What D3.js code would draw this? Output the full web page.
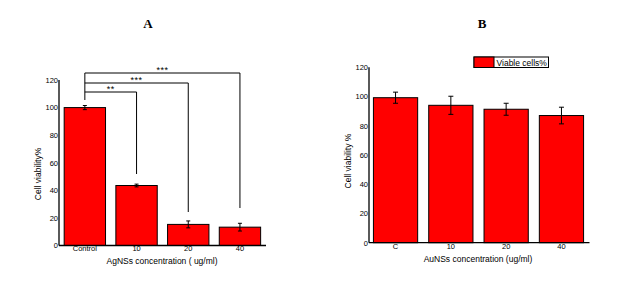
<!DOCTYPE html>
<html>
<head>
<meta charset="utf-8">
<script src="https://cdn.jsdelivr.net/npm/d3@7"></script>
<style>
  html, body { margin: 0; padding: 0; background: #fff; }
  svg { display: block; font-family: "Liberation Sans", Arial, sans-serif; }
  .tick text { font-size: 7.5px; fill: #000; }
</style>
</head>
<body>
<div id="chart"></div>
<script>
// --- panel A: AgNSs ---
var agCats = ["Control", "10", "20", "40"];
var agVals = [100, 43.5, 15.3, 13.3];
var agErr = [1.5, 1, 2.5, 2.8];
// significance brackets: from bar 0 to bar idx, label
var agSig = [
  { to: 1, label: "**", level: 92, drop: 174 },
  { to: 2, label: "***", level: 83, drop: 212 },
  { to: 3, label: "***", level: 73, drop: 208 }
];

// --- panel B: AuNSs ---
var auCats = ["C", "10", "20", "40"];
var auVals = [99.2, 94, 91.3, 87];
var auErr = [3.8, 6.2, 4.1, 5.7];

var yTicks = [0, 20, 40, 60, 80, 100, 120];

(function () {
  "use strict";

  var W = 644, H = 301;
  var svg = d3.select("#chart").append("svg").attr("width", W).attr("height", H);

  // draw one bar panel; returns scales for extra annotations
  function panel(o) {
    var g = svg.append("g");
    var x = d3.scaleBand().domain(o.cats).range([o.x0, o.x1])
      .paddingInner(0.2).paddingOuter(o.outer);
    var y = d3.scaleLinear().domain([0, 120]).range([o.y0, o.y1]);

    // tick labels under bars (bars overlap them slightly like the original)
    g.append("g").attr("transform", "translate(0," + o.y0 + ")")
      .call(d3.axisBottom(x).tickSize(0).tickPadding(o.xPad))
      .call(function (a) { a.select(".domain").remove(); });

    g.selectAll("rect.bar").data(o.vals).enter().append("rect")
      .attr("class", "bar")
      .attr("x", function (d, i) { return x(o.cats[i]); })
      .attr("width", x.bandwidth())
      .attr("y", function (d) { return y(d); })
      .attr("height", function (d) { return o.y0 - y(d); })
      .attr("fill", "#ff0000").attr("stroke", "#000").attr("stroke-width", 1);

    // error bars
    var eb = g.selectAll("g.err").data(o.vals).enter().append("g").attr("class", "err")
      .attr("stroke", "#000").attr("stroke-width", 1);
    eb.append("line")
      .attr("x1", function (d, i) { return x(o.cats[i]) + x.bandwidth() / 2; })
      .attr("x2", function (d, i) { return x(o.cats[i]) + x.bandwidth() / 2; })
      .attr("y1", function (d, i) { return y(d + o.err[i]); })
      .attr("y2", function (d, i) { return y(d - o.err[i]); });
    [1, -1].forEach(function (s) {
      eb.append("line")
        .attr("x1", function (d, i) { return x(o.cats[i]) + x.bandwidth() / 2 - o.cap; })
        .attr("x2", function (d, i) { return x(o.cats[i]) + x.bandwidth() / 2 + o.cap; })
        .attr("y1", function (d, i) { return y(d + s * o.err[i]); })
        .attr("y2", function (d, i) { return y(d + s * o.err[i]); });
    });

    // axes
    g.append("g").attr("transform", "translate(" + o.x0 + ",0)")
      .call(d3.axisLeft(y).tickValues(yTicks).tickSize(0).tickPadding(1))
      .call(function (a) { a.select(".domain").remove(); });
    g.append("line").attr("x1", o.x0).attr("x2", o.x0).attr("y1", o.y0).attr("y2", o.y1)
      .attr("stroke", "#000").attr("stroke-width", 1.3);
    g.append("line").attr("x1", o.x0).attr("x2", o.xEnd).attr("y1", o.y0).attr("y2", o.y0)
      .attr("stroke", "#000").attr("stroke-width", 1.3);

    // titles
    g.append("text").attr("x", o.titleX).attr("y", 28).attr("text-anchor", "middle")
      .attr("font-family", "'Liberation Serif', 'Times New Roman', serif")
      .attr("font-weight", "bold").attr("font-size", 13).text(o.title);
    g.append("text").attr("x", o.xlabX).attr("y", o.xlabY).attr("text-anchor", "middle")
      .attr("font-size", 8.5).text(o.xlab);
    g.append("text").attr("transform", "translate(" + o.ylabX + "," + o.ylabY + ") rotate(-90)")
      .attr("text-anchor", "middle").attr("font-size", 8.5).text(o.ylab);

    return { x: x, y: y, g: g };
  }

  var A = panel({
    cats: agCats, vals: agVals, err: agErr, cap: 2,
    x0: 59, x1: 265.8, xEnd: 266, outer: 0.1, y0: 245.5, y1: 80, xPad: 0,
    title: "A", titleX: 148, xlab: "AgNSs concentration ( ug/ml)", xlabX: 162, xlabY: 264,
    ylab: "Cell viability%", ylabX: 41, ylabY: 174
  });

  // significance brackets on A
  var cx = function (i) { return A.x(agCats[i]) + A.x.bandwidth() / 2; };
  var sg = A.g.append("g").attr("fill", "none").attr("stroke", "#000").attr("stroke-width", 1);
  sg.append("line").attr("x1", cx(0)).attr("x2", cx(0))
    .attr("y1", d3.min(agSig, function (d) { return d.level; })).attr("y2", 100);
  agSig.forEach(function (d) {
    sg.append("path")
      .attr("d", "M" + cx(0) + "," + d.level + "H" + cx(d.to) + "V" + d.drop);
    A.g.append("text").attr("x", (cx(0) + cx(d.to)) / 2).attr("y", d.level - 0.5)
      .attr("text-anchor", "middle").attr("font-size", 9).attr("letter-spacing", 0.5)
      .text(d.label);
  });

  var B = panel({
    cats: auCats, vals: auVals, err: auErr, cap: 2.5,
    x0: 369, x1: 588, xEnd: 589.5, outer: 0.08, y0: 242.7, y1: 67.3, xPad: 1,
    title: "B", titleX: 482, xlab: "AuNSs concentration (ug/ml)", xlabX: 478, xlabY: 262,
    ylab: "Cell viability %", ylabX: 351, ylabY: 161
  });

  // legend on B
  var lg = B.g.append("g").attr("transform", "translate(474,57)");
  lg.append("rect").attr("width", 74.5).attr("height", 10.5)
    .attr("fill", "#fff").attr("stroke", "#000").attr("stroke-width", 1);
  lg.append("rect").attr("width", 20).attr("height", 10.5).attr("fill", "#ff0000")
    .attr("stroke", "#000").attr("stroke-width", 1);
  lg.append("text").attr("x", 22.5).attr("y", 8.5).attr("font-size", 8.5).text("Viable cells%");
})();
</script>
</body>
</html>
